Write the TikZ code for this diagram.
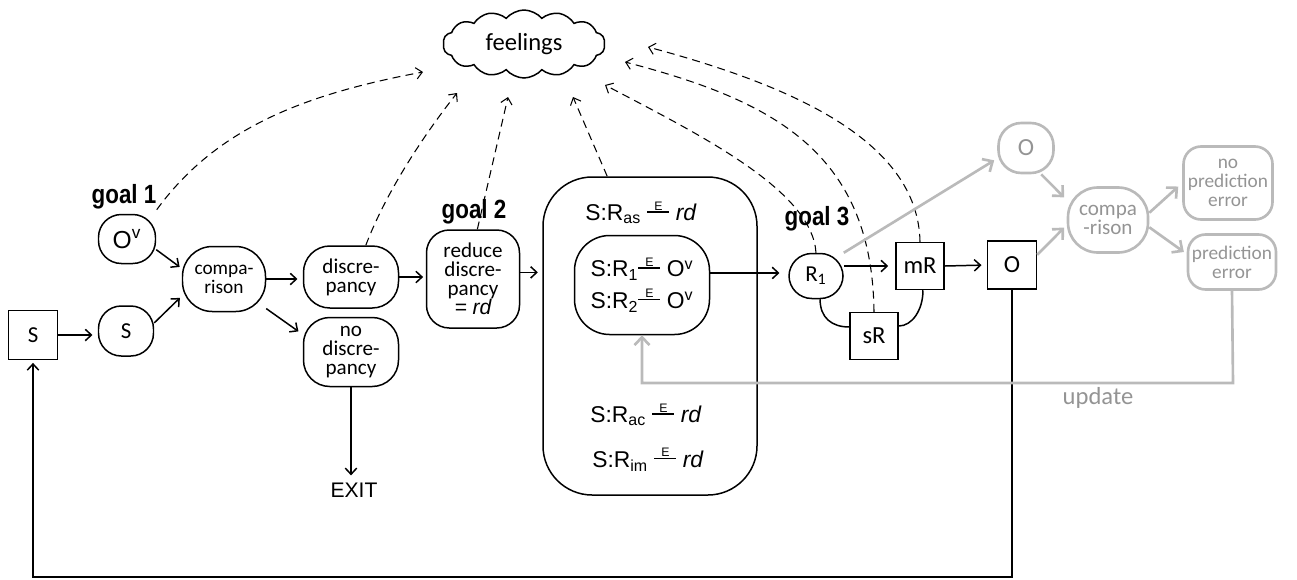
\documentclass[tikz,border=0pt]{standalone}
\usepackage{fontspec}
\setmainfont{Carlito}
\newfontfamily\arialfont{Liberation Sans}
\newfontfamily\goalfont[FakeStretch=0.85]{Liberation Sans}
\usetikzlibrary{arrows.meta,shapes.symbols}
\newdimen\pxu \pxu=0.02cm
\newcommand{\fsz}[1]{\fontsize{#1}{10.8}\selectfont}
\newcommand{\ebar}{\raisebox{4.6pt}{\rlap{\makebox[12.5pt]{\raisebox{1.3pt}{\fontsize{7}{7}\selectfont E}}}\rule{12.5pt}{0.9pt}}}

\begin{document}
\begin{tikzpicture}[x=0.02cm,y=-0.02cm]
\tikzstyle{every node}+=[inner sep=0pt]
\tikzset{box/.style={draw, line width=0.85pt, align=center},
  rnd/.style={box, rounded corners=#1},
  gbox/.style={draw=black!27, text=black!42, line width=1.5pt, rounded corners=#1, align=center},
  arr/.style={-{Straight Barb[length=3.5pt,width=6.5pt]}, line width=0.85pt, shorten >=1.5pt},
  dsh/.style={-{Straight Barb[length=3.5pt,width=6.5pt]}, line width=0.6pt, dash pattern=on 4.5pt off 3pt},
  garr/.style={-{Straight Barb[length=4.5pt,width=8.5pt]}, draw=black!27, line width=1.5pt, shorten >=2pt}}
\useasboundingbox (0,0) rectangle (1297,579);
\node[cloud, draw, line width=0.85pt, cloud puffs=14, cloud puff arc=100, aspect=2.4, minimum width=162\pxu, minimum height=68\pxu, font=\fsz{14}] (feel) at (524,44) {feelings};
\node[box, minimum width=49\pxu, minimum height=49\pxu, font=\fsz{13}] (ssq) at (33,335) {S};
\node[rnd=13pt, minimum width=55\pxu, minimum height=50\pxu, font=\fsz{13}] (scirc) at (126,331) {S};
\node[rnd=13pt, minimum width=57\pxu, minimum height=49\pxu, font=\arialfont\fsz{14}] (ov) at (127,239) {O\textsuperscript{v}};
\node[font=\goalfont\bfseries\fsz{15}] (g1) at (124,197) {goal 1};
\node[rnd=17pt, minimum width=83\pxu, minimum height=65\pxu, font=\fsz{11}] (comp) at (224,279) {compa-\\rison};
\node[rnd=15pt, minimum width=95\pxu, minimum height=62\pxu, font=\fsz{12}] (disc) at (351,277) {discre-\\pancy};
\node[rnd=15pt, minimum width=95\pxu, minimum height=69\pxu, font=\fsz{12}] (nodisc) at (351,352) {no\\discre-\\pancy};
\node[font=\arialfont\fsz{12}] (exit) at (354,490) {EXIT};
\node[font=\goalfont\bfseries\fsz{15}] (g2) at (474,212) {goal 2};
\node[rnd=13pt, minimum width=93\pxu, minimum height=98\pxu, font=\fsz{12}] (reduce) at (473,279) {reduce\\discre-\\pancy\\{\arialfont\itshape = rd}};
\node[rnd=28pt, minimum width=214\pxu, minimum height=318\pxu] (big) at (650,336) {};
\node[font=\arialfont\fsz{13}] (ras) at (641,213) {S:R\textsubscript{as} \ebar\ \textit{rd}};
\node[rnd=20pt, minimum width=135\pxu, minimum height=99\pxu, font=\arialfont\fontsize{13}{18}\selectfont] (inner) at (642,285) {S:R\textsubscript{1}\ebar\ O\textsuperscript{v}\\S:R\textsubscript{2}\ebar\ O\textsuperscript{v}};
\node[font=\arialfont\fsz{13}] (rac) at (646,415) {S:R\textsubscript{ac} \ebar\ \textit{rd}};
\node[font=\arialfont\fsz{13}] (rim) at (648,460) {S:R\textsubscript{im} \ebar\ \textit{rd}};
\node[font=\goalfont\bfseries\fsz{15}] (g3) at (817,219) {goal 3};
\node[rnd=13pt, minimum width=54\pxu, minimum height=45\pxu, font=\fsz{13}] (r1) at (816,276) {R\textsubscript{1}};
\node[box, minimum width=48\pxu, minimum height=47\pxu, font=\fsz{14}] (mr) at (920,266) {mR};
\node[box, minimum width=48\pxu, minimum height=47\pxu, font=\fsz{14}] (sr) at (874,336) {sR};
\node[box, minimum width=49\pxu, minimum height=48\pxu, font=\fsz{14}] (osq) at (1012,265) {O};
\node[gbox=13pt, minimum width=55\pxu, minimum height=50\pxu, font=\fsz{14}] (go) at (1026,148) {O};
\node[gbox=17pt, minimum width=80\pxu, minimum height=65\pxu, font=\fsz{12}] (gcomp) at (1108,220) {compa\\-rison};
\node[gbox=10pt, minimum width=89\pxu, minimum height=73\pxu, font=\fsz{11}] (nope) at (1228,183) {no\\prediction\\error};
\node[gbox=10pt, minimum width=88\pxu, minimum height=55\pxu, font=\fsz{11}] (pe) at (1232,262) {prediction\\error};
\node[text=black!42, font=\fsz{14}] (upd) at (1098,398) {update};
\coordinate (f1) at (423,72);
\coordinate (f2) at (457,93);
\coordinate (f3) at (508,97);
\coordinate (f4) at (573,97);
\coordinate (f5) at (605,85);
\coordinate (f6) at (625,62);
\coordinate (f7) at (648,47);
\coordinate (upc) at (1233,383);
\coordinate (loopc) at (1012,577);
\draw[arr, shorten >=3pt] (ssq.east) -- (ssq.east -| scirc.west);
\draw[arr] (scirc.16) -- (comp.202);
\draw[arr] (ov.-20) -- (comp.166);
\draw[arr, shorten >=3pt] (comp.east) -- (comp.east -| disc.west);
\draw[arr, shorten >=3pt] (comp.-35) -- (nodisc.160);
\draw[arr, shorten >=4pt] (nodisc.south) -- (nodisc.south |- exit.north);
\draw[arr] (disc.east) -- (disc.east -| reduce.west);
\draw[arr, shorten >=2.5pt] (reduce.8) -- (reduce.8 -| big.west);
\draw[arr, shorten >=5pt] (inner.10) -- (inner.10 -| r1.west);
\draw[arr, shorten >=4pt] (r1.east |- mr.west) -- (mr.west);
\draw[arr, shorten >=3pt] (mr.east) -- (osq.west);
\draw[line width=0.85pt] (r1.-80) .. controls (820,318) and (832,327) .. (sr.160);
\draw[line width=0.85pt] (sr.22) .. controls (912,326) and (923,310) .. (mr.-83);
\draw[arr] (osq.south) -- (loopc) -| (ssq.south);
\draw[dsh] (g1.south east) .. controls (215,130) and (300,95) .. (f1);
\draw[dsh] (disc.65) .. controls (385,195) and (420,140) .. (f2);
\draw[dsh] (reduce.85) -- (f3);
\draw[dsh] (big.105) -- (f4);
\draw[dsh] (r1.north) .. controls (812,190) and (700,135) .. (f5);
\draw[dsh] (sr.north) .. controls (872,150) and (770,100) .. (f6);
\draw[dsh] (mr.north) .. controls (918,140) and (790,85) .. (f7);
\draw[garr] (r1.north east) -- (go.200);
\draw[garr] (go.-60) -- (gcomp.154);
\draw[garr] (osq.22) -- (gcomp.187);
\draw[garr, shorten >=3pt] (gcomp.10) -- (nope.west);
\draw[garr] (gcomp.-10) -- (pe.170);
\draw[garr, shorten >=0pt] (pe.south) -- (upc) -| (inner.south);
\end{tikzpicture}
\end{document}
